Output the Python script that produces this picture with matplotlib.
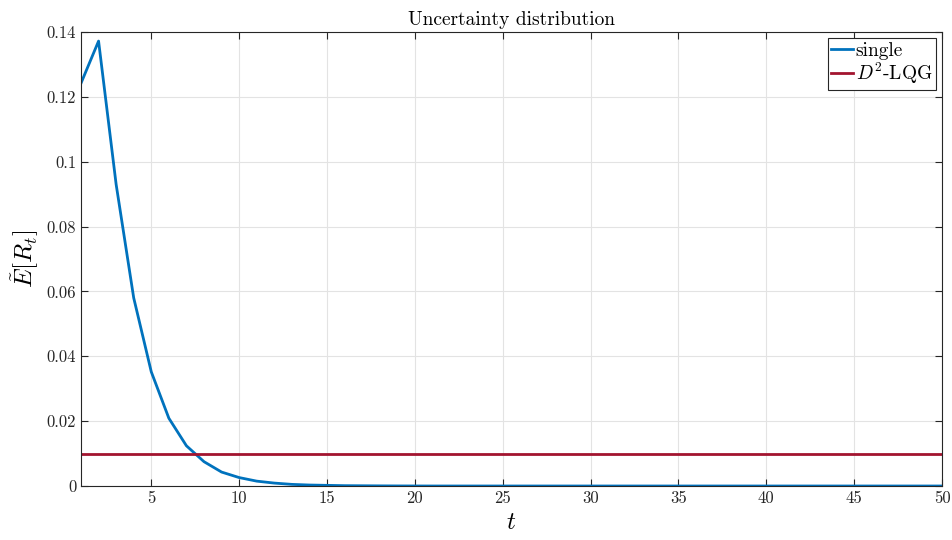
import numpy as np
import matplotlib
matplotlib.use("Agg")
import matplotlib.pyplot as plt

plt.rcParams['font.family'] = 'serif'
plt.rcParams['font.serif'] = ['cmr10', 'DejaVu Serif']
plt.rcParams['mathtext.fontset'] = 'cm'
plt.rcParams['axes.formatter.use_mathtext'] = True

t = np.arange(1, 51)
single = [0.1242, 0.1372, 0.0930, 0.0580, 0.0352, 0.0209, 0.0124, 0.0075, 0.0043, 0.0026,
          0.0015, 0.0009, 0.0005, 0.0003, 0.0002, 0.0001, 0.00007, 0.00004, 0.00002, 0.00001] + [0.0] * 30
lqg = [0.0098] * 50
yticks = [0, 0.02, 0.04, 0.06, 0.08, 0.1, 0.12, 0.14]
ylabels = ['0', '0.02', '0.04', '0.06', '0.08', '0.1', '0.12', '0.14']
xticks = [5, 10, 15, 20, 25, 30, 35, 40, 45, 50]

fig = plt.figure(figsize=(9.52, 5.4), dpi=100)
ax = fig.add_axes([81 / 952, 54 / 540, 861 / 952, 454 / 540])

ax.plot(t, single, color='#0072BD', lw=2, label='single')
ax.plot(t, lqg, color='#A2142F', lw=2, label='$D^2$-LQG')

ax.set_xlim(1, 50)
ax.set_ylim(0, 0.14)
ax.set_xticks(xticks)
ax.set_xticklabels([str(x) for x in xticks])
ax.set_yticks(yticks)
ax.set_yticklabels(ylabels)
ax.grid(True, color='#e3e3e3', lw=0.8)
ax.set_axisbelow(True)
ax.tick_params(direction='in', top=True, right=True, labelsize=12, colors='#262626', length=5)
for s in ax.spines.values():
    s.set_color('#262626')
    s.set_linewidth(0.8)

ax.set_title('Uncertainty distribution', fontsize=14, color='#000000', pad=5)
ax.set_xlabel('$t$', fontsize=18)
ax.set_ylabel(r'$\tilde{E}[R_t]$', fontsize=18)

leg = ax.legend(loc='upper right', fontsize=14, handlelength=1.1, handletextpad=0.15,
                borderpad=0.2, labelspacing=0.05, fancybox=False, framealpha=1,
                borderaxespad=0.3)
leg.get_frame().set_edgecolor('#262626')
leg.get_frame().set_linewidth(0.8)

fig.savefig('out.png', dpi=100)
